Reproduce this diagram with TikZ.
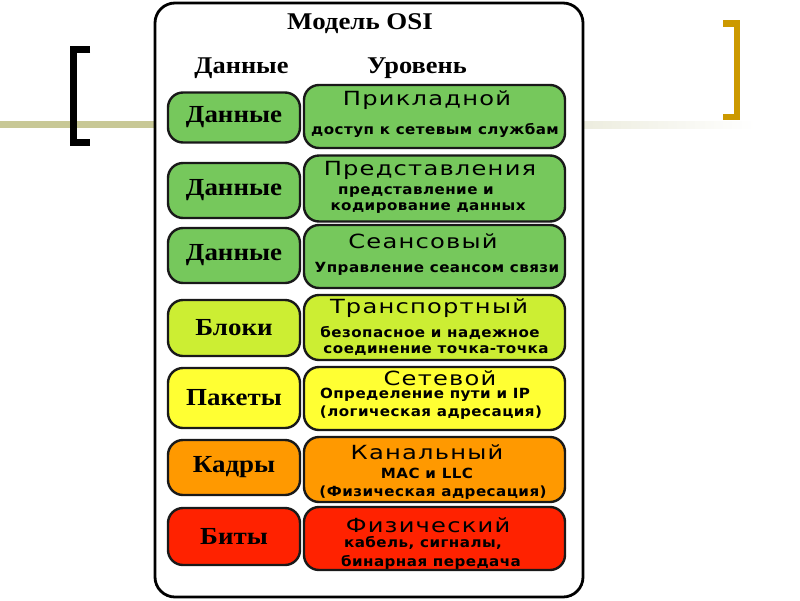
\documentclass[tikz,border=0pt]{standalone}
\usepackage{fontspec}
\setmainfont{Liberation Serif}
\newfontfamily\ttlf{DejaVu Sans}[LetterSpace=5]
\newfontfamily\subf{DejaVu Sans}[LetterSpace=3]
\definecolor{olive}{RGB}{200,200,150}
\definecolor{gold}{RGB}{204,153,0}
\definecolor{cgreen}{RGB}{118,200,92}
\definecolor{clime}{RGB}{204,238,51}
\definecolor{cyellow}{RGB}{255,255,51}
\definecolor{corange}{RGB}{255,153,0}
\definecolor{cred}{RGB}{255,34,0}
\newcommand{\wideS}[1]{\scalebox{1.1}[1]{#1}}
\newcommand{\tx}[1]{\scalebox{1.24}[1]{#1}}
\newcommand{\sx}[1]{\scalebox{1.08}[1]{#1}}
\tikzset{
  lbox/.style={draw=black!90, line width=2.4pt, rounded corners=15pt, minimum width=132pt, inner sep=0pt,
    font=\fontsize{24.5}{26}\selectfont\bfseries},
  rbox/.style={draw=black!90, line width=2.4pt, rounded corners=15pt, minimum width=261pt, inner sep=0pt},
  hdr/.style={inner sep=0pt, font=\fontsize{24}{26}\selectfont\bfseries},
  ttl/.style={inner sep=0pt, font=\fontsize{19.5}{21}\ttlf},
  sub/.style={inner sep=0pt, font=\fontsize{14}{15}\subf\bfseries},
}
\begin{document}
\begin{tikzpicture}[x=1pt,y=-1pt]
\useasboundingbox (0,0) rectangle (800,600);
% background decorations
\fill[olive] (0,121) rectangle (160,128);
\shade[left color=black!4!olive!30, right color=white] (580,121) rectangle (755,128);
\draw[black, line width=7pt] (90,49.5) -- (73.5,49.5) -- (73.5,142.5) -- (90,142.5);
\draw[gold, line width=6.5pt] (723,23.5) -- (737,23.5) -- (737,117) -- (723,117);
% panel
\draw[black, line width=2.8pt, fill=white, rounded corners=20pt] (155,3) rectangle (583,597);
\node[hdr] (title) at (360,24) {\scalebox{1.12}[1]{Модель OSI}};
\node[hdr] (hdata) at (241.5,68) {\wideS{Данные}};
\node[hdr] (hlvl) at (417,68) {\wideS{Уровень}};
% row 1
\node[lbox, fill=cgreen, minimum height=50pt] (l1) at (234,117.5) {\wideS{Данные}};
\node[rbox, fill=cgreen, minimum height=63pt] (r1) at (434.5,116.5) {};
\node[ttl] (t1) at (427,100) {\tx{Прикладной}};
\node[sub] (s1) at (435,130) {\sx{доступ к сетевым службам}};
% row 2
\node[lbox, fill=cgreen, minimum height=55pt] (l2) at (234,190.5) {\wideS{Данные}};
\node[rbox, fill=cgreen, minimum height=66pt] (r2) at (434.5,188.5) {};
\node[ttl] (t2) at (430,170) {\tx{Представления}};
\node[sub] (s2a) at (416,192) {\sx{представление и}};
\node[sub] (s2b) at (428,208) {\sx{кодирование данных}};
% row 3
\node[lbox, fill=cgreen, minimum height=55pt] (l3) at (234,255.5) {\wideS{Данные}};
\node[rbox, fill=cgreen, minimum height=63pt] (r3) at (434.5,256.5) {};
\node[ttl] (t3) at (423,241) {\tx{Сеансовый}};
\node[sub] (s3) at (437,269) {\sx{Управление сеансом связи}};
% row 4
\node[lbox, fill=clime, minimum height=56pt] (l4) at (234,328) {\wideS{Блоки}};
\node[rbox, fill=clime, minimum height=65pt] (r4) at (434.5,327.5) {};
\node[ttl] (t4) at (429,308) {\tx{Транспортный}};
\node[sub] (s4a) at (430,333) {\sx{безопасное и надежное}};
\node[sub] (s4b) at (436,351) {\sx{соединение точка-точка}};
% row 5
\node[lbox, fill=cyellow, minimum height=60pt] (l5) at (234,398) {\wideS{Пакеты}};
\node[rbox, fill=cyellow, minimum height=63pt] (r5) at (434.5,398.5) {};
\node[ttl] (t5) at (440,378) {\tx{Сетевой}};
\node[sub] (s5a) at (425,395) {\sx{Определение пути и IP}};
\node[sub] (s5b) at (431,413) {\sx{(логическая адресация)}};
% row 6
\node[lbox, fill=corange, minimum height=55pt] (l6) at (234,467.5) {\wideS{Кадры}};
\node[rbox, fill=corange, minimum height=65pt] (r6) at (434.5,469.5) {};
\node[ttl] (t6) at (427,452) {\tx{Канальный}};
\node[sub] (s6a) at (427,473) {\sx{MAC и LLC}};
\node[sub] (s6b) at (433,493) {\sx{(Физическая адресация)}};
% row 7
\node[lbox, fill=cred, minimum height=57pt] (l7) at (234,536.5) {\wideS{Биты}};
\node[rbox, fill=cred, minimum height=63pt] (r7) at (434.5,538.5) {};
\node[ttl] (t7) at (428,525) {\tx{Физический}};
\node[sub] (s7a) at (423,543) {\sx{кабель, сигналы,}};
\node[sub] (s7b) at (431,562) {\sx{бинарная передача}};
\end{tikzpicture}
\end{document}
